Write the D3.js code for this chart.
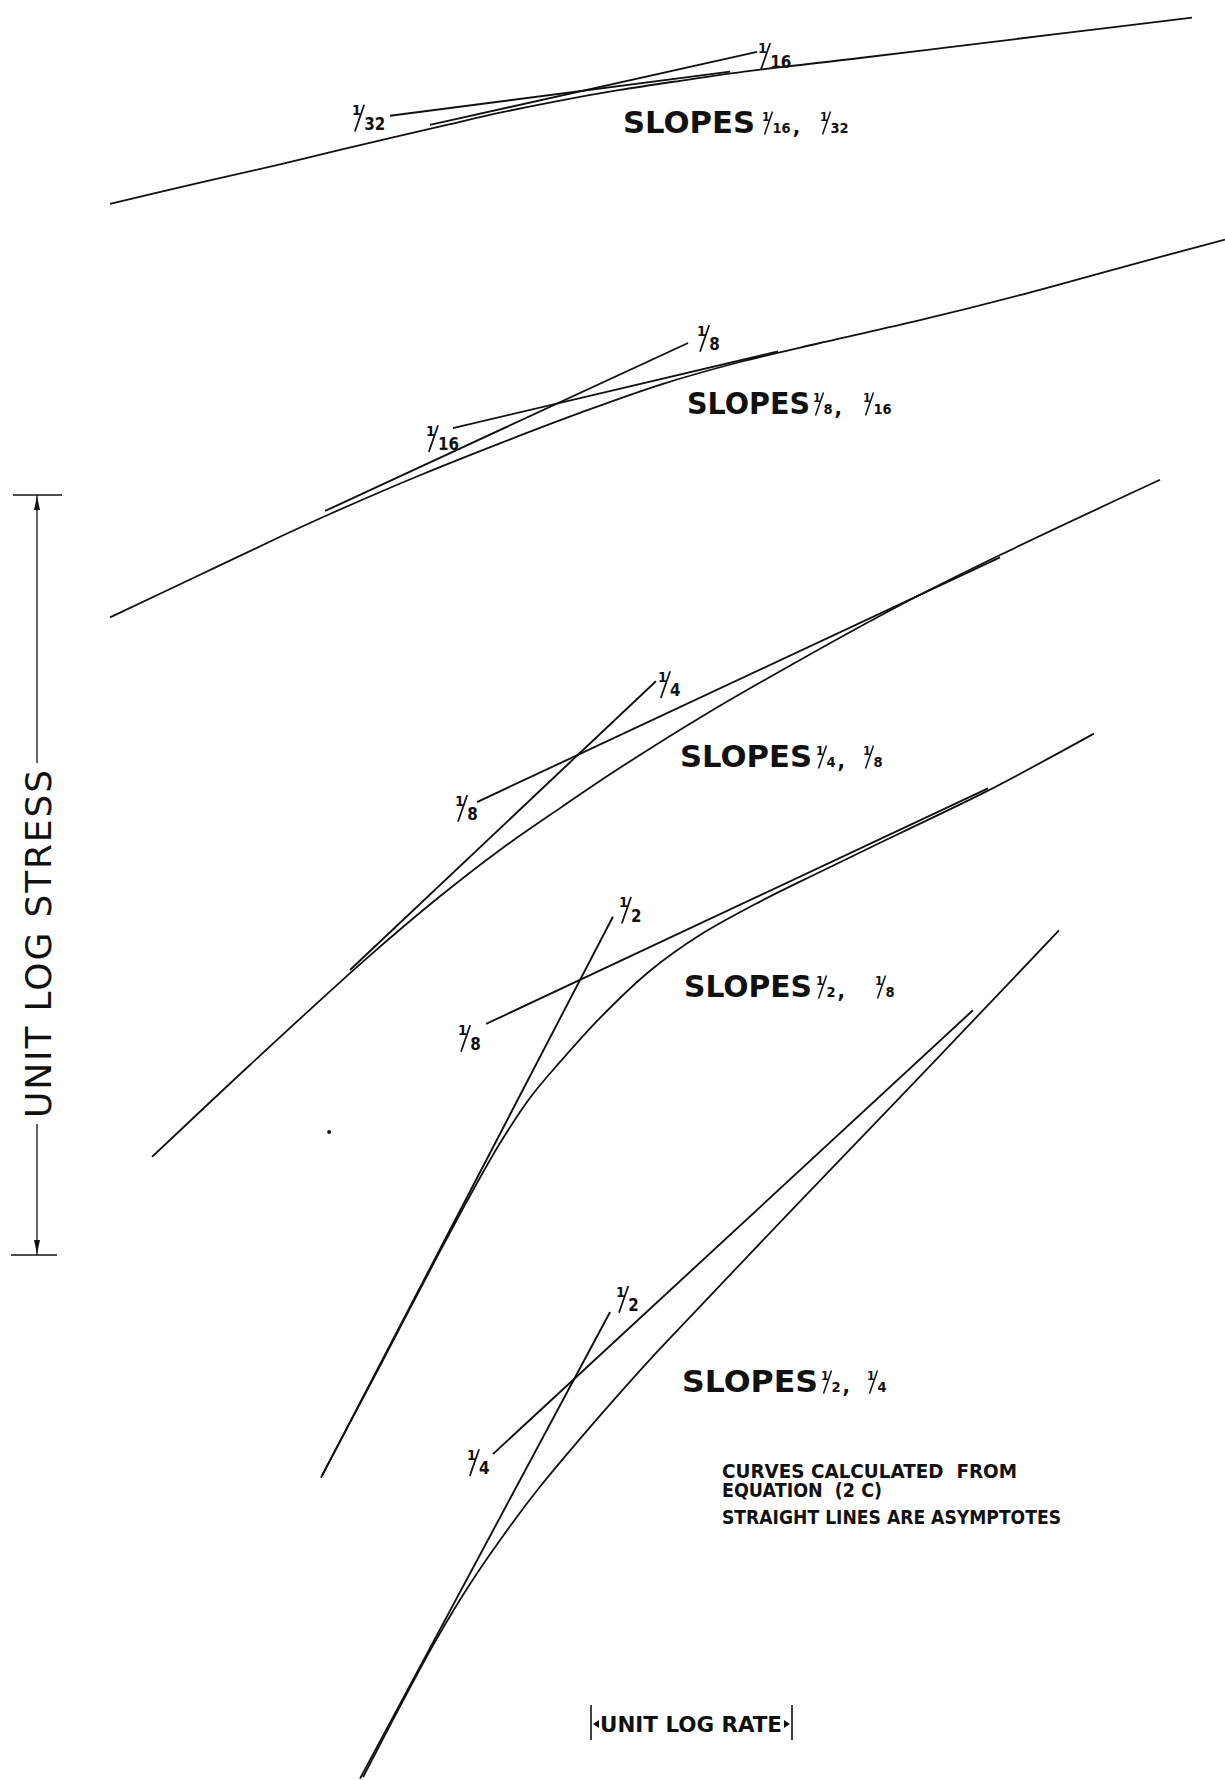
<!DOCTYPE html>
<html>
<head>
<meta charset="utf-8">
<script src="https://cdn.jsdelivr.net/npm/d3@7"></script>
<style>
  body { margin: 0; background: #fff; }
  svg { display: block; background: #fff; }
  text { fill: #111; font-family: "DejaVu Sans Condensed", "DejaVu Sans", sans-serif; white-space: pre; }
</style>
</head>
<body>
<svg id="chart" width="1225" height="1780"></svg>
<script>
// denominators of the two slopes of each curve (steep, shallow)
const slopePairs = [["16", "32"], ["8", "16"], ["4", "8"], ["2", "8"], ["2", "4"]];

// curves calculated from equation (2C)
// [unit log rate, unit log stress], origin at the lower end of both unit bars
const curve1 = [[-2.393, 1.383], [-1.945, 1.411], [-1.547, 1.435], [-1.249, 1.454], [-0.701, 1.488],
  [-0.453, 1.503], [-0.154, 1.519], [0.144, 1.533], [0.443, 1.545], [0.791, 1.558],
  [1.338, 1.575], [1.836, 1.591], [2.333, 1.607], [2.990, 1.628]];
const curve2 = [[-2.393, 0.839], [-1.945, 0.895], [-1.547, 0.945], [-1.299, 0.975], [-0.851, 1.026],
  [-0.453, 1.068], [-0.055, 1.108], [0.343, 1.145], [0.741, 1.175], [1.139, 1.200],
  [1.637, 1.230], [2.134, 1.263], [2.632, 1.299], [3.154, 1.336]];
const curve3 = [[-2.184, 0.129], [-1.697, 0.250], [-1.109, 0.392], [-0.751, 0.472], [-0.453, 0.533],
  [-0.154, 0.588], [0.144, 0.641], [0.542, 0.707], [1.040, 0.783], [1.537, 0.855],
  [2.035, 0.921], [2.831, 1.020]];
const curve4 = [[-1.338, -0.290], [-1.050, -0.146], [-0.751, 0.005], [-0.602, 0.078], [-0.453, 0.147],
  [-0.303, 0.207], [-0.154, 0.254], [0.045, 0.312], [0.294, 0.374], [0.542, 0.421],
  [0.841, 0.465], [1.139, 0.504], [1.537, 0.555], [1.975, 0.611], [2.502, 0.686]];
const curve5 = [[-1.134, -0.687], [-0.950, -0.594], [-0.776, -0.509], [-0.602, -0.433], [-0.403, -0.357],
  [-0.254, -0.305], [-0.055, -0.242], [0.119, -0.189], [0.299, -0.136], [0.542, -0.068],
  [0.771, -0.004], [1.100, 0.087], [1.438, 0.180], [1.900, 0.308], [2.328, 0.427]];
const curves = [curve1, curve2, curve3, curve4, curve5];

// asymptotes, [lower end, upper end]
const steepLines = [
  [[-0.801, 1.487], [0.826, 1.583]],
  [[-1.323, 0.979], [0.483, 1.200]],
  [[-1.199, 0.375], [0.323, 0.755]],
  [[-1.343, -0.293], [0.109, 0.445]],
  [[-1.149, -0.689], [0.095, -0.075]]
];
const shallowLines = [
  [[-1.000, 1.499], [0.692, 1.557]],
  [[-0.687, 1.088], [0.930, 1.189]],
  [[-0.567, 0.596], [2.035, 0.918]],
  [[-0.522, 0.304], [1.975, 0.614]],
  [[-0.488, -0.262], [1.900, 0.322]]
];

// unit bars and notes
const unitStress = [0, 1];
const unitRate = [0, 1];
const strayDot = [-1.303, 0.162];
const notes = ["CURVES CALCULATED  FROM", "EQUATION  (2 C)", "STRAIGHT LINES ARE ASYMPTOTES"];

const svg = d3.select("#chart");

// one unit of log rate is 201 px wide, one unit of log stress 760 px tall
const x = d3.scaleLinear().domain(unitRate).range([591, 792]);
const y = d3.scaleLinear().domain(unitStress).range([1255, 495]);

const line = d3.line().x(d => x(d[0])).y(d => y(d[1])).curve(d3.curveCatmullRom.alpha(0.5));

// curves
svg.append("g")
   .selectAll("path")
   .data(curves)
   .join("path")
   .attr("d", line)
   .attr("fill", "none")
   .attr("stroke", "#111")
   .attr("stroke-width", 1.8);

// asymptotes
svg.append("g")
   .selectAll("path")
   .data(steepLines.concat(shallowLines))
   .join("path")
   .attr("d", d3.line().x(d => x(d[0])).y(d => y(d[1])))
   .attr("fill", "none")
   .attr("stroke", "#111")
   .attr("stroke-width", 1.9);

// stray ink dot of the original drawing
svg.append("circle")
   .attr("cx", x(strayDot[0]))
   .attr("cy", y(strayDot[1]))
   .attr("r", 2)
   .attr("fill", "#111");

// fraction "1/n": small raised 1, tall drawn slash, denominator
function fraction(g, left, bottom, den, s) {
  g.append("text")
   .attr("x", left).attr("y", bottom - s * 0.5)
   .attr("font-size", s * 0.5)
   .style("font-weight", "bold")
   .text("1");
  g.append("line")
   .attr("x1", left + s * 0.1).attr("y1", bottom + s * 0.06)
   .attr("x2", left + s * 0.42).attr("y2", bottom - s * 0.86)
   .attr("stroke", "#111").attr("stroke-width", Math.max(1.3, s * 0.06));
  const t = g.append("text")
             .attr("x", left + s * 0.42).attr("y", bottom)
             .attr("font-size", s * 0.58)
             .style("font-weight", "bold")
             .text(den);
  return left + s * 0.42 + t.node().getComputedTextLength();
}

// labels at the ends of the asymptotes (offset from the end, px)
const steepNudge = [[1, 16], [9, 7], [2, 15], [6, 5], [6, -1]];
const shallowNudge = [[-38, 14], [-27, 22], [-22, 18], [-28, 26], [-26, 20]];
const labels = svg.append("g");
steepLines.forEach((l, i) => {
  const end = l[1];
  fraction(labels, x(end[0]) + steepNudge[i][0], y(end[1]) + steepNudge[i][1], slopePairs[i][0], 29);
});
shallowLines.forEach((l, i) => {
  const end = l[0];
  fraction(labels, x(end[0]) + shallowNudge[i][0], y(end[1]) + shallowNudge[i][1], slopePairs[i][1], 29);
});

// "SLOPES a, b" titles: left, baseline, word width, offset of 1st and 2nd fraction
const slopeTitleAt = [[623, 133, 132, 139, 197], [687, 414, 123, 126, 176], [680, 767, 132, 136, 183],
  [684, 997, 128, 132, 191], [682, 1392, 136, 139, 185]];
const titles = svg.append("g");
slopePairs.forEach((p, i) => {
  const [sx, sy, w, f1, f2] = slopeTitleAt[i];
  titles.append("text")
        .attr("x", sx).attr("y", sy)
        .attr("font-size", 31)
        .style("font-weight", "bold")
        .attr("textLength", w).attr("lengthAdjust", "spacingAndGlyphs")
        .text("SLOPES");
  const end = fraction(titles, sx + f1, sy, p[0], 25);
  titles.append("text").attr("x", end + 2).attr("y", sy + 1)
        .attr("font-size", 22).style("font-weight", "bold").text(",");
  fraction(titles, sx + f2, sy, p[1], 25);
});

// notes
svg.append("g")
   .selectAll("text")
   .data(notes)
   .join("text")
   .attr("x", 722)
   .attr("y", (d, i) => [1478, 1497, 1524][i])
   .attr("font-size", 19)
   .style("font-family", "'DejaVu Sans', sans-serif")
   .style("font-weight", "bold")
   .attr("textLength", (d, i) => [295, 160, 339][i])
   .attr("lengthAdjust", "spacingAndGlyphs")
   .text(d => d);

// unit log stress bar
const sx0 = 37;
const mid = 944;
const stress = svg.append("g").attr("stroke", "#111").attr("stroke-width", 1.3);
stress.append("line").attr("x1", 13).attr("x2", 62).attr("y1", y(1)).attr("y2", y(1));
stress.append("line").attr("x1", 11).attr("x2", 57).attr("y1", y(0)).attr("y2", y(0));
stress.append("line").attr("x1", sx0).attr("x2", sx0).attr("y1", y(1)).attr("y2", mid - 181);
stress.append("line").attr("x1", sx0).attr("x2", sx0).attr("y1", mid + 180).attr("y2", y(0));
svg.append("path")
   .attr("d", `M${sx0},${y(1) + 1} L${sx0 - 3},${y(1) + 15} L${sx0 + 3},${y(1) + 15} Z`)
   .attr("fill", "#111");
svg.append("path")
   .attr("d", `M${sx0},${y(0) - 1} L${sx0 - 3},${y(0) - 15} L${sx0 + 3},${y(0) - 15} Z`)
   .attr("fill", "#111");
svg.append("text")
   .attr("transform", `translate(51,${mid}) rotate(-90)`)
   .attr("text-anchor", "middle")
   .style("font-family", "'DejaVu Sans', sans-serif")
   .style("font-weight", "normal")
   .attr("font-size", 36)
   .attr("textLength", 348)
   .attr("lengthAdjust", "spacing")
   .text("UNIT LOG STRESS");

// unit log rate bar
const rate = svg.append("g");
rate.selectAll("line")
    .data(unitRate)
    .join("line")
    .attr("x1", d => x(d)).attr("x2", d => x(d))
    .attr("y1", 1705).attr("y2", 1740)
    .attr("stroke", "#111").attr("stroke-width", 1.6);
rate.append("path")
    .attr("d", `M${x(0) + 2},1724 L${x(0) + 8},1720 L${x(0) + 8},1728 Z`)
    .attr("fill", "#111");
rate.append("path")
    .attr("d", `M${x(1) - 2},1724 L${x(1) - 8},1720 L${x(1) - 8},1728 Z`)
    .attr("fill", "#111");
rate.append("text")
    .attr("x", x(0) + 9).attr("y", 1732)
    .attr("font-size", 21)
    .style("font-weight", "bold")
    .attr("textLength", 182).attr("lengthAdjust", "spacingAndGlyphs")
    .text("UNIT LOG RATE");
</script>
</body>
</html>
